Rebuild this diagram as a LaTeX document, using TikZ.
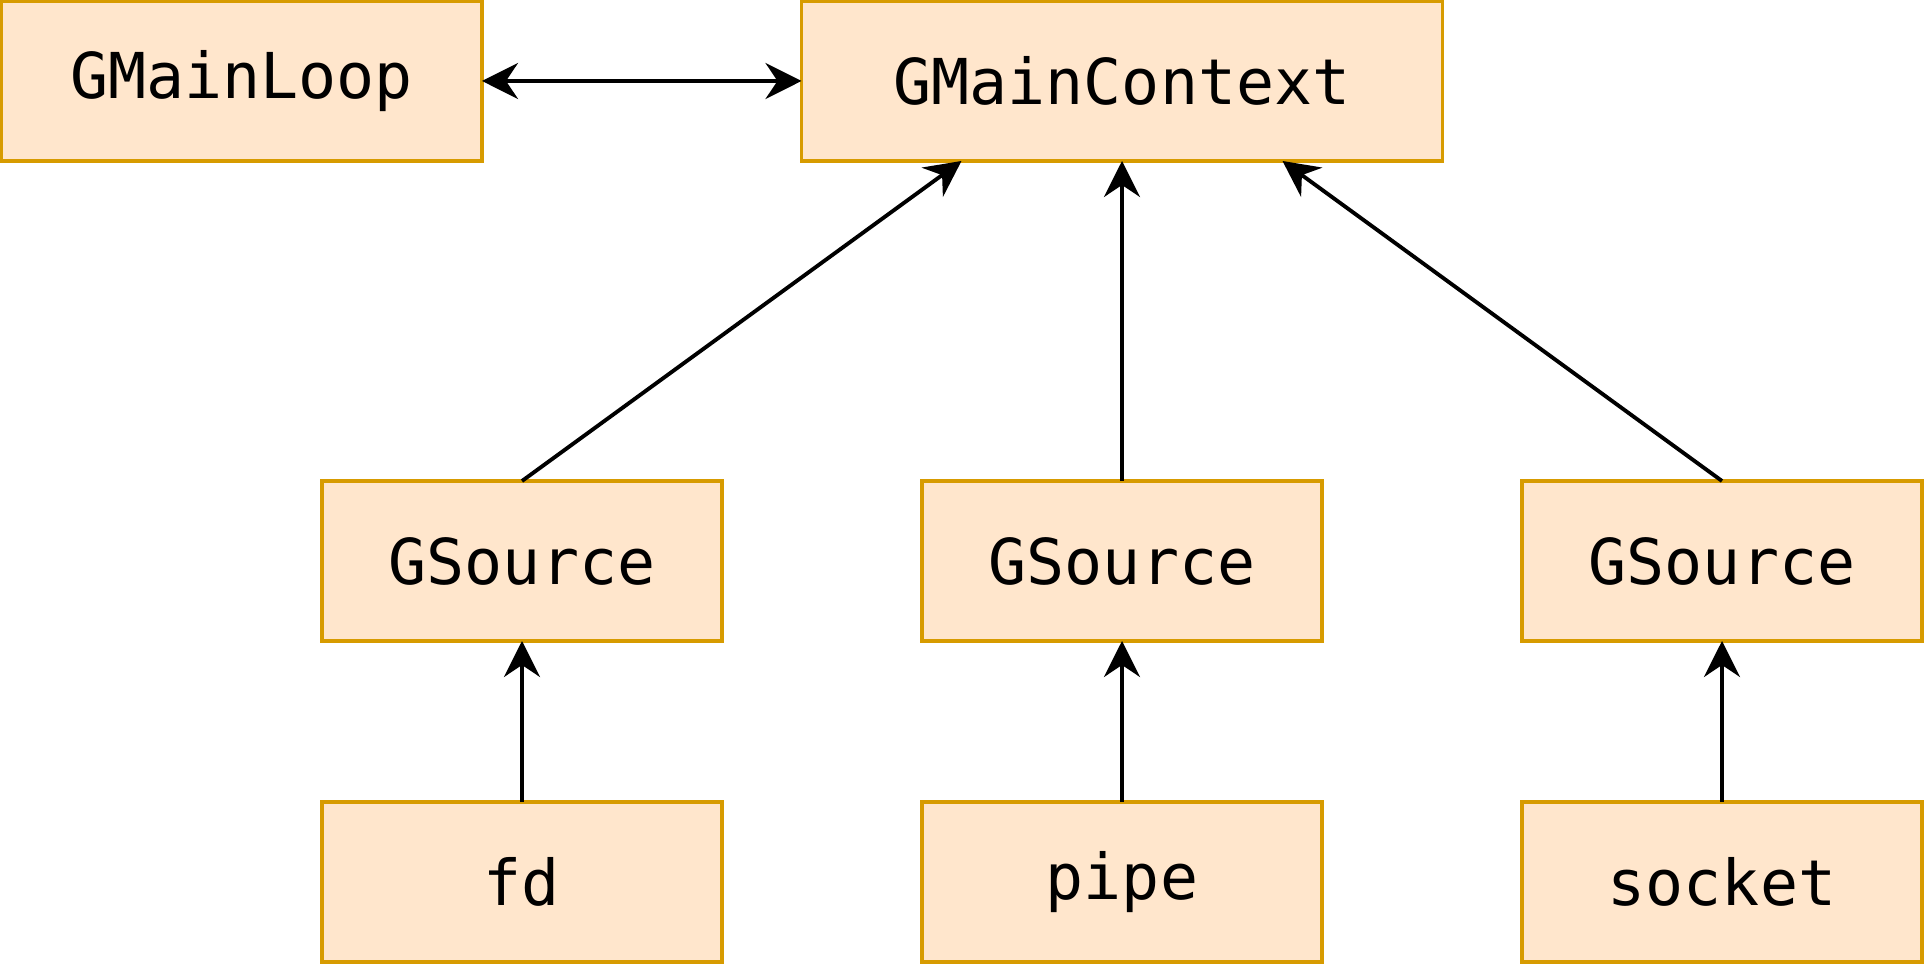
\documentclass[tikz,border=0pt]{standalone}
\usepackage{fontspec}
\setmonofont{DejaVu Sans Mono}
\usepackage{tikz}
\usetikzlibrary{arrows.meta,positioning,calc}

\definecolor{boxfill}{HTML}{FFE6CC}
\definecolor{boxline}{HTML}{D79B00}

\begin{document}
\begin{tikzpicture}[
    node distance=2cm,
    box/.style={rectangle, draw=boxline, fill=boxfill, line width=1.1pt, outer sep=0pt, minimum width=4cm, minimum height=1.6cm, align=center, font=\ttfamily\fontsize{18}{22}\selectfont},
    arrow/.style={-{Stealth[length=3.6mm, width=3.6mm, inset=1.2mm]}, line width=1.1pt},
    both/.style={{Stealth[length=3.6mm, width=3.6mm, inset=1.2mm]}-{Stealth[length=3.6mm, width=3.6mm, inset=1.2mm]}, line width=1.1pt}
]
    \useasboundingbox (0,0) rectangle (19.24,9.64);

    \node[box, minimum width=6.41cm] (ctx) at (11.22,8.83) {GMainContext};
    \node[box, minimum width=4.81cm] (loop) at (2.415,8.83) {GMainLoop};

    \node[box, below=3.2cm of ctx] (src2) {GSource};
    \node[box, left=of src2] (src1) {GSource};
    \node[box, right=of src2] (src3) {GSource};

    \node[box, below=1.61cm of src1] (fd) {fd};
    \node[box, below=1.61cm of src2] (pipe) {pipe};
    \node[box, below=1.61cm of src3] (socket) {socket};

    \draw[both] (loop) -- (ctx);
    \draw[arrow] (src1.north) -- ([xshift=1.6cm]ctx.south west);
    \draw[arrow] (src2) -- (ctx);
    \draw[arrow] (src3.north) -- ([xshift=-1.6cm]ctx.south east);
    \draw[arrow] (fd) -- (src1);
    \draw[arrow] (pipe) -- (src2);
    \draw[arrow] (socket) -- (src3);
\end{tikzpicture}
\end{document}
